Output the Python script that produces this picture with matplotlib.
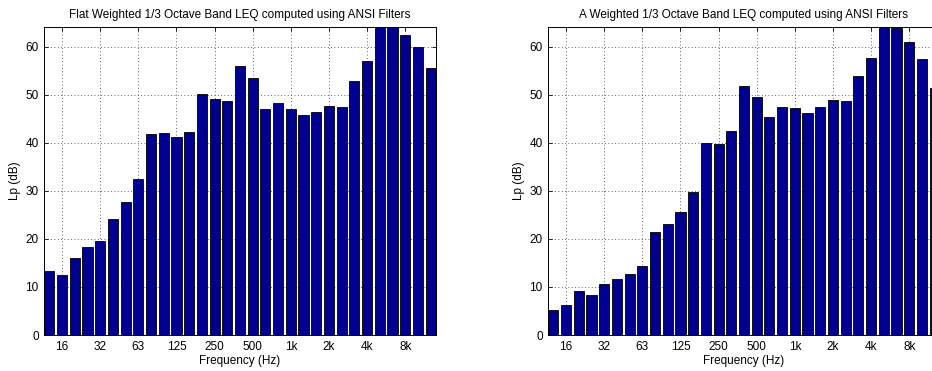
import matplotlib
matplotlib.use("Agg")
import matplotlib.pyplot as plt
import numpy as np

plt.rcParams['font.family'] = ['Liberation Sans', 'DejaVu Sans']
plt.rcParams['font.size'] = 8.5

bands = ["12.5", "16", "20", "25", "31.5", "40", "50", "63", "80", "100", "125",
         "160", "200", "250", "315", "400", "500", "630", "800", "1k", "1.25k",
         "1.6k", "2k", "2.5k", "3.15k", "4k", "5k", "6.3k", "8k", "10k", "12.5k"]

flat_db = [13.4, 12.5, 16.1, 18.2, 19.5, 24.2, 27.6, 32.4, 41.8, 42.0, 41.1,
           42.2, 50.1, 49.0, 48.6, 56.0, 53.5, 47.1, 48.2, 47.1, 45.8,
           46.3, 47.6, 47.4, 52.9, 57.0, 66.0, 65.5, 62.3, 60.0, 55.6]

a_db = [5.2, 6.2, 9.2, 8.3, 10.7, 11.7, 12.6, 14.4, 21.5, 23.1, 25.6,
        29.7, 40.0, 39.8, 42.4, 51.8, 49.6, 45.3, 47.5, 47.2, 46.2,
        47.4, 48.9, 48.6, 53.9, 57.7, 65.0, 63.8, 61.0, 57.5, 51.4]

tick_labels = ["16", "32", "63", "125", "250", "500", "1k", "2k", "4k", "8k"]
tick_bands = ["16", "31.5", "63", "125", "250", "500", "1k", "2k", "4k", "8k"]
yticks = [0, 10, 20, 30, 40, 50, 60]

titles = ["Flat Weighted 1/3 Octave Band LEQ computed using ANSI Filters",
          "A Weighted 1/3 Octave Band LEQ computed using ANSI Filters"]

W, H = 932, 371
fig = plt.figure(figsize=(W / 100, H / 100), dpi=100)
fig.patch.set_facecolor('white')

axw = 391.4 / W
axh = (335 - 27.3) / H
bottom = 1 - 335 / H
positions = [[44.3 / W, bottom, axw, axh], [548.3 / W, bottom, axw, axh]]

x = np.arange(1, len(bands) + 1)
xt = [bands.index(b) + 1 for b in tick_bands]

for pos, vals, title in zip(positions, [flat_db, a_db], titles):
    ax = fig.add_axes(pos)
    ax.set_axisbelow(True)
    ax.bar(x, vals, width=0.8, color='#000090', edgecolor='black', linewidth=0.6)
    ax.set_xlim(0.6, len(bands) + 0.4)
    ax.set_ylim(0, 64)
    ax.set_xticks(xt)
    ax.set_xticklabels(tick_labels)
    ax.set_yticks(yticks)
    ax.grid(True, linestyle=(0, (1, 3)), color='#333333', linewidth=0.6)
    ax.tick_params(direction='in', length=3, width=0.6, top=True, right=True,
                   labelsize=8.5, pad=4, colors='black')
    for s in ax.spines.values():
        s.set_linewidth(0.7)
        s.set_color('black')
    ax.set_title(title, fontsize=8.5, pad=7)
    ax.set_xlabel("Frequency (Hz)", fontsize=8.5, labelpad=2)
    ax.set_ylabel("Lp (dB)", fontsize=8.5, labelpad=3)

fig.savefig("out.png", dpi=100)
